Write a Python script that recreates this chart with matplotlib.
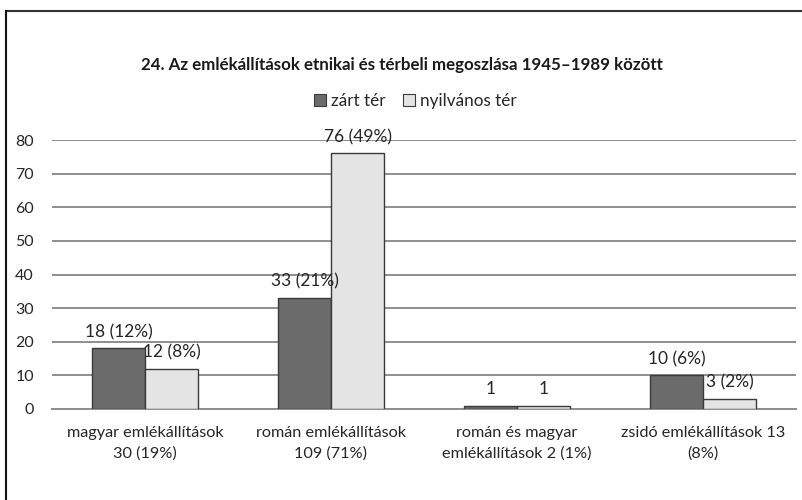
import numpy as np
import matplotlib
matplotlib.use('Agg')
import matplotlib.pyplot as plt
from matplotlib.lines import Line2D
from matplotlib.patches import Patch

plt.rcParams['font.family'] = ['Lato', 'DejaVu Sans']

categories = ['magyar emlékállítások\n30 (19%)', 'román emlékállítások\n109 (71%)',
              'román és magyar\nemlékállítások 2 (1%)', 'zsidó emlékállítások 13\n(8%)']
zart = [18, 33, 1, 10]
nyilvanos = [12, 76, 1, 3]
zart_labels = ['18 (12%)', '33 (21%)', '1', '10 (6%)']
nyilvanos_labels = ['12 (8%)', '76 (49%)', '1', '3 (2%)']
series_names = ['zárt tér', 'nyilvános tér']

dark = '#6b6b6b'
light = '#e4e4e4'
edge = '#3a3a3a'
grid = '#8e8e8e'
txt = '#262626'

fig = plt.figure(figsize=(8.03, 5.0), dpi=100)
ax = fig.add_axes([52/803, 1-409/500, 744/803, 269/500])

x = np.arange(len(categories))
w = 0.285
b1 = ax.bar(x - w/2, zart, w, color=dark, edgecolor=edge, linewidth=1.0, zorder=3)
b2 = ax.bar(x + w/2, nyilvanos, w, color=light, edgecolor=edge, linewidth=1.0, zorder=3)

for rect, lab in zip(b1, zart_labels):
    ax.annotate(lab, (rect.get_x() + rect.get_width()/2, rect.get_height()),
                xytext=(0, 6), textcoords='offset points', ha='center', va='bottom',
                fontsize=12.5, color=txt, zorder=4)
for rect, lab in zip(b2, nyilvanos_labels):
    ax.annotate(lab, (rect.get_x() + rect.get_width()/2, rect.get_height()),
                xytext=(0, 6), textcoords='offset points', ha='center', va='bottom',
                fontsize=12.5, color=txt, zorder=4)

ax.set_xlim(-0.5, 3.5)
ax.set_ylim(0, 80)
ax.set_yticks(np.arange(0, 81, 10))
ax.yaxis.grid(True, color=grid, linewidth=1.4, zorder=0)
ax.set_axisbelow(True)
for s in ['top', 'right', 'left']:
    ax.spines[s].set_visible(False)
ax.spines['bottom'].set_color(grid)
ax.spines['bottom'].set_linewidth(1.4)
ax.set_xticks(x)
ax.set_xticklabels(categories, fontsize=11.7, color=txt, linespacing=1.6)
ax.tick_params(axis='x', length=0, pad=12)
ax.tick_params(axis='y', length=0, pad=13, labelsize=11.5, labelcolor=txt)

fig.text(0.5, 1-65/500, '24. Az emlékállítások etnikai és térbeli megoszlása 1945–1989 között',
         ha='center', va='center', fontsize=12.2, fontweight='bold', color='#1a1a1a')

handles = [Patch(facecolor=dark, edgecolor=edge, linewidth=0.8),
           Patch(facecolor=light, edgecolor=edge, linewidth=0.8)]
fig.legend(handles, series_names, loc='center', bbox_to_anchor=(0.517, 1-101/500), ncol=2,
           frameon=False, fontsize=12.3, handlelength=0.7, handleheight=0.7,
           handletextpad=0.3, columnspacing=1.0, labelcolor=txt)

# outer frame (top and left edge visible)
fig.add_artist(Line2D([6.5/803, 1.0], [1-10.5/500, 1-10.5/500], transform=fig.transFigure,
                      color='#333333', linewidth=1.5))
fig.add_artist(Line2D([6.5/803, 6.5/803], [0, 1-10.5/500], transform=fig.transFigure,
                      color='#111111', linewidth=1.5))

plt.savefig('out.png', dpi=100)
